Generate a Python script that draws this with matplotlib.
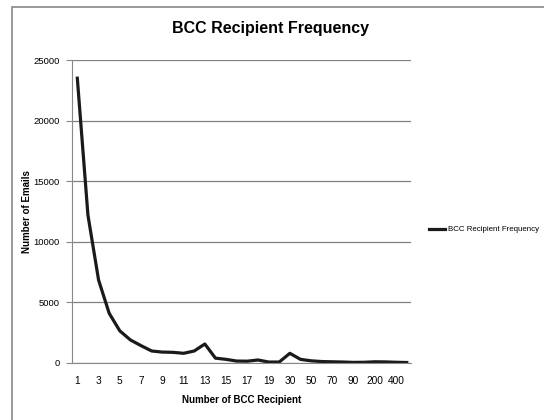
import matplotlib.pyplot as plt
from matplotlib.patches import Rectangle

# categories (number of BCC recipients) and email counts
recipients = [str(i) for i in range(1, 21)] + ['30', '40', '50', '60', '70', '80',
                                               '90', '100', '200', '300', '400', '500']
emails = [23500, 12200, 6850, 4100, 2650, 1900, 1430, 990, 900, 880, 800, 990,
          1570, 400, 300, 160, 150, 250, 80, 80, 800, 300, 180, 120, 100, 80,
          50, 60, 100, 90, 60, 40]
yticks = [0, 5000, 10000, 15000, 20000, 25000]

plt.rcParams['font.family'] = ['Liberation Sans', 'DejaVu Sans']

fig = plt.figure(figsize=(5.44, 4.2), dpi=100)
ax = fig.add_axes([72 / 544, 1 - 363 / 420, (411 - 72) / 544, (363 - 60) / 420])

x = list(range(len(recipients)))
ax.plot(x, emails, color='#1a1a1a', linewidth=2.3, label='BCC Recipient Frequency')

ax.set_ylim(0, 25000)
ax.set_xlim(-0.5, len(recipients) - 0.6)
ax.set_yticks(yticks)
ax.set_yticklabels([str(v) for v in yticks], fontsize=6.8)
ax.set_xticks(x[::2])
ax.set_xticklabels(recipients[::2], fontsize=7.3)
ax.tick_params(axis='x', length=0, pad=9)
ax.tick_params(axis='y', length=4, color='#888888', pad=5)
ax.grid(axis='y', color='#808080', linewidth=0.9)
ax.set_axisbelow(True)
for s in ['top', 'right']:
    ax.spines[s].set_visible(False)
ax.spines['left'].set_color('#888888')
ax.spines['bottom'].set_color('#888888')

ax.set_xlabel('Number of BCC Recipient', fontsize=7, fontweight='bold', labelpad=7)
ax.set_ylabel('Number of Emails', fontsize=7, fontweight='bold')
ax.yaxis.set_label_coords((32 - 72) / 339, 0.5)
fig.text(270 / 544, 1 - 28 / 420, 'BCC Recipient Frequency', fontsize=11.5,
         fontweight='bold', ha='center', va='center')

ax.legend(loc='center left', bbox_to_anchor=(1.04, 0.44), frameon=False,
          fontsize=5.7, handlelength=2.0, handletextpad=0.3, borderaxespad=0.2)

# chart area border
fig.patches.append(Rectangle((12 / 544, -0.1), 1.0, 1.1 - 7 / 420, transform=fig.transFigure,
                             fill=False, edgecolor='#888888', linewidth=1.2))

fig.savefig('out.png', dpi=100)
